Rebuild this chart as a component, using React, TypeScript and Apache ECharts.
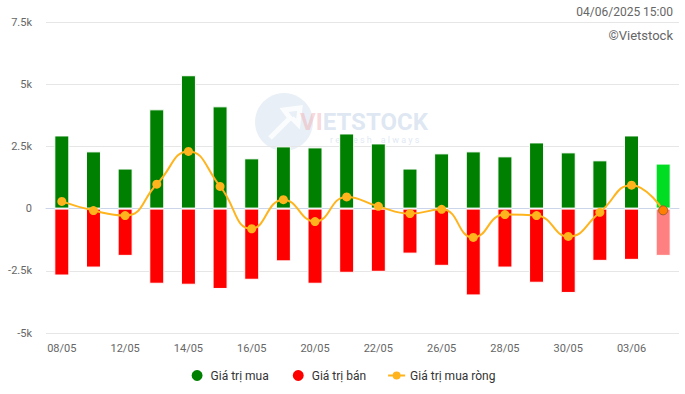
import React, { useEffect, useRef } from "react";
import * as echarts from "echarts";

const categories = ["08/05","09/05","12/05","13/05","14/05","15/05","16/05","19/05","20/05","21/05","22/05","23/05","26/05","27/05","28/05","29/05","30/05","02/06","03/06","04/06"];
const buyValues = [2940,2300,1610,3990,5360,4110,2020,2500,2460,3020,2620,1610,2220,2300,2100,2660,2260,1940,2940,1810];
const sellValues = [-2690,-2370,-1900,-3020,-3060,-3230,-2860,-2120,-3020,-2580,-2540,-1810,-2300,-3490,-2370,-2980,-3390,-2100,-2060,-1900];
const netValues = [290,-80,-280,980,2300,890,-810,360,-520,470,90,-200,-30,-1160,-240,-280,-1120,-150,940,-70];
const yTicks = [-5000,-2500,0,2500,5000,7500];

const FONT = "Roboto, 'Noto Sans', sans-serif";
const LINE_ICON = "path://M0,0 L0.01,0 L0.01,0.01 Z M17,13 L16.99,13 L16.99,12.99 Z M0,5.5 L17,5.5 L17,7.5 L0,7.5 Z M4.5,6.5 A4,4 0 1 1 12.5,6.5 A4,4 0 1 1 4.5,6.5 Z";

export default function App() {
  const ref = useRef<HTMLDivElement>(null);
  useEffect(() => {
    if (!ref.current) return;
    const chart = echarts.init(ref.current, undefined, { renderer: "svg" });
    const last = categories.length - 1;
    const fmt = (v: number) => {
      if (v === 0) return "0";
      return (v / 1000).toString() + "k";
    };
    chart.setOption({
      animation: false,
      textStyle: { fontFamily: FONT },
      grid: { left: 46, right: 6, top: 22, bottom: 61, containLabel: false },
      graphic: [
        { type: "text", right: 12, top: 6, style: { text: "04/06/2025 15:00", fill: "#666", font: "12px " + FONT } },
        { type: "text", right: 12, top: 29, style: { text: "©Vietstock", fill: "#666", font: "13px " + FONT } },
        { type: "circle", shape: { cx: 284, cy: 122, r: 29 }, style: { fill: "rgba(190,208,230,0.35)" }, z: -1 },
        { type: "polyline", shape: { points: [[270, 138], [290, 118], [284, 110], [300, 108], [298, 124], [292, 118]] }, style: { stroke: "rgba(255,255,255,0.8)", lineWidth: 5, fill: "none" }, z: -1 },
        {
          type: "text", x: 300, y: 110, z: -1,
          style: {
            text: "{a|VI}{b|ETSTOCK}",
            rich: {
              a: { fill: "rgba(240,170,175,0.45)", font: "bold 24px " + FONT },
              b: { fill: "rgba(190,208,230,0.5)", font: "bold 24px " + FONT },
            },
          },
        },
        { type: "text", x: 330, y: 135, z: -1, style: { text: "r e f r e s h    a l w a y s", fill: "rgba(190,208,230,0.5)", font: "9px " + FONT } },
      ],
      legend: {
        bottom: 6,
        left: "center",
        itemGap: 22,
        itemWidth: 17,
        itemHeight: 13,
        textStyle: { color: "#333", fontSize: 12, fontFamily: FONT },
        data: [
          { name: "Giá trị mua", icon: "circle" },
          { name: "Giá trị bán", icon: "circle" },
          { name: "Giá trị mua ròng", icon: LINE_ICON, itemStyle: { color: "#ffb41e" } },
        ],
      },
      xAxis: {
        type: "category",
        data: categories,
        axisLine: { show: true, lineStyle: { color: "#ccd6eb" } },
        axisTick: { show: false },
        axisLabel: { interval: 1, color: "#666", fontSize: 11, margin: 10, fontFamily: FONT },
        splitLine: { show: false },
      },
      yAxis: {
        type: "value",
        min: yTicks[0],
        max: yTicks[yTicks.length - 1],
        interval: 2500,
        axisLine: { show: false },
        axisTick: { show: false },
        axisLabel: { formatter: fmt, color: "#666", fontSize: 11, margin: 14, fontFamily: FONT },
        splitLine: { lineStyle: { color: "#e6e6e6" } },
      },
      series: [
        {
          name: "Giá trị mua",
          type: "bar",
          stack: "v",
          barWidth: 15,
          itemStyle: { color: "#008000", borderColor: "#fff", borderWidth: 1 },
          data: buyValues.map((v, i) => i === last ? { value: v, itemStyle: { color: "#00dd22" } } : v),
        },
        {
          name: "Giá trị bán",
          type: "bar",
          stack: "v",
          barWidth: 15,
          itemStyle: { color: "#ff0000", borderColor: "#fff", borderWidth: 1 },
          data: sellValues.map((v, i) => i === last ? { value: v, itemStyle: { color: "#ff8080" } } : v),
        },
        {
          name: "Giá trị mua ròng",
          type: "line",
          smooth: true,
          symbol: "circle",
          symbolSize: 9,
          z: 5,
          lineStyle: { color: "#ffb41e", width: 2 },
          itemStyle: { color: "#ffb41e" },
          data: netValues.map((v, i) => i === last ? { value: v, itemStyle: { color: "#ff7f00", borderColor: "#a05a2c", borderWidth: 1 } } : v),
        },
      ],
    });
    return () => chart.dispose();
  }, []);
  return <div ref={ref} style={{ width: 685, height: 394, position: "absolute", left: 0, top: 0 }} />;
}
